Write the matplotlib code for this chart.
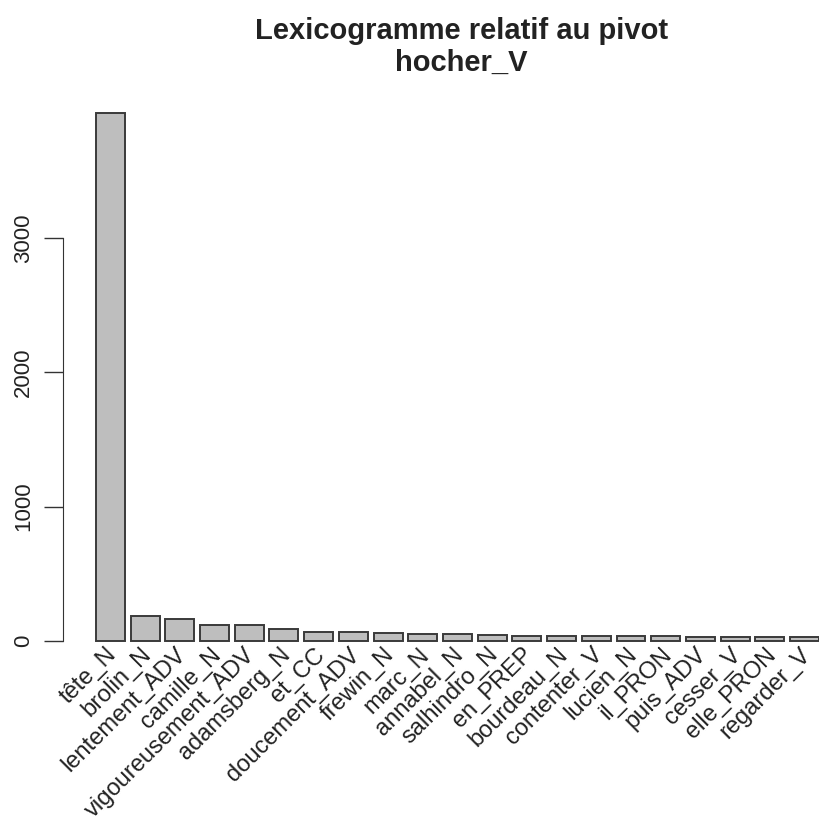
import numpy as np
import matplotlib
matplotlib.use("Agg")
import matplotlib.pyplot as plt

# cooccurrents of the pivot, sorted by frequency
labels = ["tête_N", "brolin_N", "lentement_ADV", "camille_N", "vigoureusement_ADV",
          "adamsberg_N", "et_CC", "doucement_ADV", "frewin_N", "marc_N",
          "annabel_N", "salhindro_N", "en_PREP", "bourdeau_N", "contenter_V",
          "lucien_N", "il_PRON", "puis_ADV", "cesser_V", "elle_PRON", "regarder_V"]
counts = [3930, 185, 160, 118, 115, 92, 68, 63, 60, 50,
          48, 43, 40, 38, 36, 35, 33, 32, 30, 28, 26]
yticks = [0, 1000, 2000, 3000]

plt.rcParams['font.family'] = ['Liberation Sans', 'DejaVu Sans']

W, H = 819, 818
fig = plt.figure(figsize=(W / 100, H / 100), dpi=100)
# plot region in pixels (R style barplot)
left, right, top, bottom = 63, 819, 92, 662
ax = fig.add_axes([left / W, 1 - bottom / H, (right - left) / W, (bottom - top) / H])

# R barplot: width 1, space 0.2
x = 0.7 + 1.2 * np.arange(len(counts))
ax.bar(x, counts, width=1, color='#bebebe', edgecolor='#3a3a3a', linewidth=1.4, clip_on=False)

ymax = max(counts)
ax.set_ylim(-0.04 * ymax, 1.04 * ymax)
ax.set_xlim(-0.94, 25.2)

for s in ['top', 'right', 'bottom']:
    ax.spines[s].set_visible(False)
ax.spines['left'].set_bounds(0, 3000)
ax.spines['left'].set_color('#333333')
ax.set_yticks(yticks)
ax.set_yticklabels([str(t) for t in yticks], rotation=90, va='center', fontsize=16, color='#222222')
ax.tick_params(axis='y', length=14, width=1, color='#333333', pad=7)
ax.set_xticks([])

for xi, lab in zip(x, labels):
    ax.text(xi + 0.1, -0.02 * ymax, lab, rotation=45, rotation_mode='anchor',
            ha='right', va='center', fontsize=17, color='#222222', clip_on=False)

fig.text(0.563, 0.962, "Lexicogramme relatif au pivot", ha='center', va='center',
         fontsize=21, fontweight='bold', color='#222222')
fig.text(0.563, 0.923, "hocher_V", ha='center', va='center',
         fontsize=21, fontweight='bold', color='#222222')

fig.savefig("out.png", dpi=100)
